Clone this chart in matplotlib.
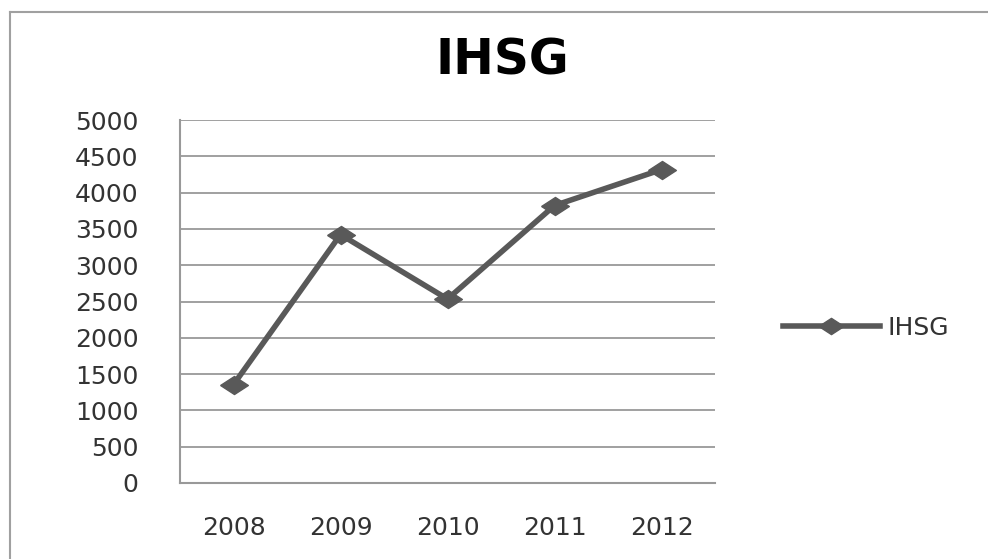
import matplotlib.pyplot as plt
from matplotlib.lines import Line2D

# IHSG closing values per year
years = ["2008", "2009", "2010", "2011", "2012"]
ihsg = [1355, 3422, 2534, 3822, 4317]
y_ticks = [0, 500, 1000, 1500, 2000, 2500, 3000, 3500, 4000, 4500, 5000]

line_color = "#595959"
grid_color = "#999999"
# flattened diamond marker
diamond = [(-1, 0), (0, 0.65), (1, 0), (0, -0.65), (-1, 0)]

plt.rcParams["font.family"] = ["DejaVu Sans"]

fig = plt.figure(figsize=(9.88, 5.59), dpi=100)
fig.patch.set_facecolor("white")
ax = fig.add_axes([180 / 988, 1 - 483 / 559, 535 / 988, 363 / 559])

x = list(range(len(years)))
ax.plot(x, ihsg, color=line_color, linewidth=4, marker=diamond,
        markersize=20, markerfacecolor=line_color, markeredgecolor=line_color,
        solid_joinstyle="miter")

ax.set_xlim(-0.5, len(years) - 0.5)
ax.set_ylim(0, 5000)
ax.set_yticks(y_ticks)
ax.set_yticklabels([str(v) for v in y_ticks])
ax.set_xticks(x)
ax.set_xticklabels(years)

ax.yaxis.grid(True, color=grid_color, linewidth=1.3)
ax.set_axisbelow(True)
for side in ["top", "right"]:
    ax.spines[side].set_visible(False)
for side in ["left", "bottom"]:
    ax.spines[side].set_color(grid_color)
    ax.spines[side].set_linewidth(1.5)

ax.tick_params(axis="both", length=0, labelsize=18, colors="#333333")
ax.tick_params(axis="y", pad=30)
ax.tick_params(axis="x", pad=24)

fig.text(502 / 988, 1 - 61 / 559, "IHSG", ha="center", va="center",
         fontsize=35, fontweight="bold", color="black")

handle = Line2D([], [], color=line_color, linewidth=4, marker=diamond,
                markersize=18, markerfacecolor=line_color,
                markeredgecolor=line_color)
fig.legend([handle], ["IHSG"], loc="center left",
           bbox_to_anchor=(760 / 988, 1 - 328 / 559), frameon=False,
           fontsize=18, handlelength=3.9, handletextpad=0.3,
           labelcolor="#333333")

# outer chart border (top and left edges)
fig.add_artist(Line2D([10 / 988, 1], [1 - 12 / 559, 1 - 12 / 559],
                      transform=fig.transFigure, color="#a0a0a0", linewidth=1.5))
fig.add_artist(Line2D([10 / 988, 10 / 988], [0, 1 - 12 / 559],
                      transform=fig.transFigure, color="#a0a0a0", linewidth=1.5))

fig.savefig("out.png", dpi=100)
